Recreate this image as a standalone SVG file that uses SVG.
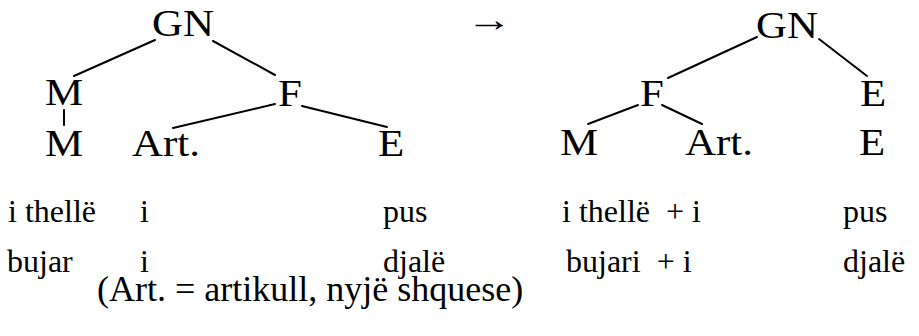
<svg xmlns="http://www.w3.org/2000/svg" width="919" height="336" viewBox="0 0 919 336" font-family="Liberation Serif, Times New Roman, serif">
  <style>
    text { fill: #000; white-space: pre; font-family: 'Liberation Serif', 'Times New Roman', serif; }
    .lbl { font-size: 37px; text-anchor: middle; }
    .txt { font-size: 32px; }
    .note { font-size: 36px; }
    .edge { stroke: #000; stroke-width: 2; fill: none; stroke-linecap: round; }
  </style>
  <rect width="919" height="336" fill="#fff"/>

  <!-- tree before: GN -> M, F ; F -> Art., E -->
  <g id="t1-GN"><text class="lbl" transform="translate(183,36) scale(1.16,1)">GN</text></g>
  <g id="t1-M"><text class="lbl" transform="translate(64,105) scale(1.16,1)">M</text></g>
  <g id="t1-M2"><text class="lbl" transform="translate(64,156) scale(1.16,1)">M</text></g>
  <g id="t1-F"><text class="lbl" transform="translate(290,106) scale(1.16,1)">F</text></g>
  <g id="t1-Art"><text class="lbl" transform="translate(166,156) scale(1.16,1)">Art.</text></g>
  <g id="t1-E"><text class="lbl" transform="translate(391,156) scale(1.16,1)">E</text></g>

  <!-- transformation arrow -->
  <g id="arrow"><text class="txt" transform="translate(466,31) scale(1.45,1.05)">→</text></g>

  <!-- tree after: GN -> F, E ; F -> M, Art. -->
  <g id="t2-GN"><text class="lbl" transform="translate(787,38) scale(1.16,1)">GN</text></g>
  <g id="t2-F"><text class="lbl" transform="translate(652,106) scale(1.16,1)">F</text></g>
  <g id="t2-E"><text class="lbl" transform="translate(873,106) scale(1.16,1)">E</text></g>
  <g id="t2-M"><text class="lbl" transform="translate(579,155) scale(1.16,1)">M</text></g>
  <g id="t2-Art"><text class="lbl" transform="translate(719,155) scale(1.16,1)">Art.</text></g>
  <g id="t2-E2"><text class="lbl" transform="translate(872,155) scale(1.16,1)">E</text></g>

  <g id="connectors">
    <line class="edge" x1="155" y1="40" x2="74" y2="76"/>
    <line class="edge" x1="213" y1="41" x2="275" y2="75"/>
    <line class="edge" x1="64" y1="110" x2="64" y2="125"/>
    <line class="edge" x1="275" y1="104" x2="173" y2="128"/>
    <line class="edge" x1="302" y1="106" x2="387" y2="127"/>
    <line class="edge" x1="757" y1="37" x2="668" y2="78"/>
    <line class="edge" x1="819" y1="39" x2="867" y2="76"/>
    <line class="edge" x1="638" y1="105" x2="588" y2="124"/>
    <line class="edge" x1="662" y1="105" x2="702" y2="124"/>
  </g>

  <!-- example rows -->
  <g id="examples">
    <text class="txt" x="8" y="222">i thellë</text>
    <text class="txt" x="140" y="222">i</text>
    <text class="txt" x="383" y="222">pus</text>
    <text class="txt" x="562" y="222">i thellë  + i</text>
    <text class="txt" x="843" y="222">pus</text>
    <text class="txt" x="7" y="272">bujar</text>
    <text class="txt" x="140" y="272">i</text>
    <text class="txt" x="383" y="272">djalë</text>
    <text class="txt" x="566" y="272">bujari  + i</text>
    <text class="txt" x="843" y="272">djalë</text>
    <text class="note" x="97" y="301">(Art. = artikull, nyjë shquese)</text>
  </g>
</svg>
